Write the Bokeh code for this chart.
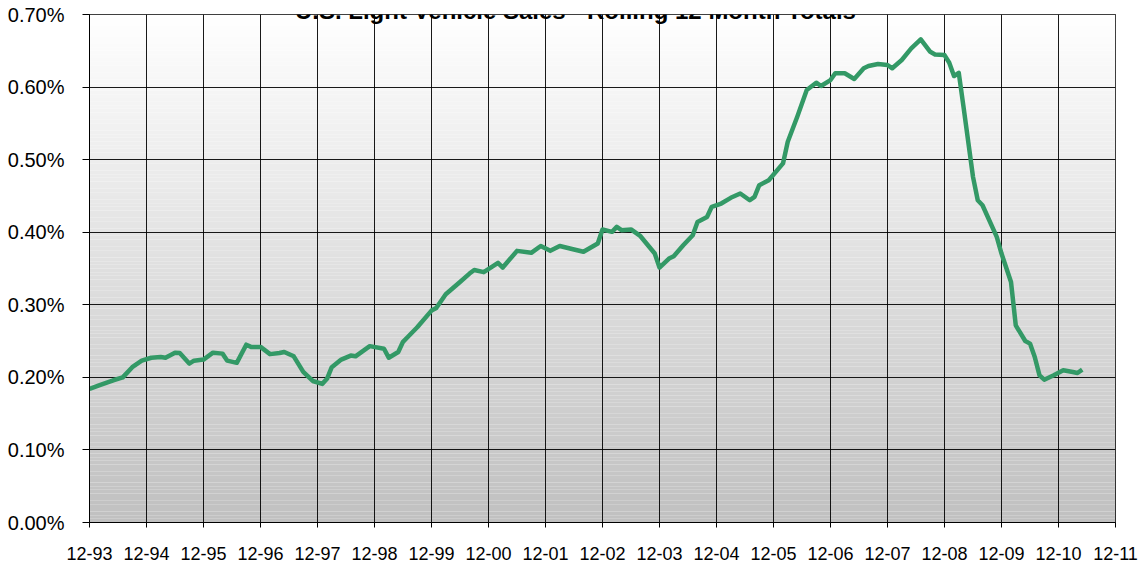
import numpy as np
from bokeh.plotting import figure
from bokeh.models import Range1d, FixedTicker, PrintfTickFormatter, Label, ColumnDataSource
from bokeh.embed import file_html
from bokeh.resources import INLINE

title_text = "U.S. Light Vehicle Sales - Rolling 12 Month Totals"
tick_labels = ["12-93", "12-94", "12-95", "12-96", "12-97", "12-98", "12-99", "12-00", "12-01",
               "12-02", "12-03", "12-04", "12-05", "12-06", "12-07", "12-08", "12-09", "12-10", "12-11"]
y_ticks = [0.0, 0.1, 0.2, 0.3, 0.4, 0.5, 0.6, 0.7]

month_offset = [0, 2, 5, 7, 9, 11, 13, 15, 16, 18, 19, 21, 22, 24, 26, 28, 29, 31, 33, 34,
                36, 38, 40, 41, 43, 45, 47, 49, 50, 51, 53, 55, 56, 59, 62, 63, 65, 66, 67, 69,
                72, 73, 75, 78, 80, 81, 83, 86, 87, 90, 93, 95, 97, 99, 102, 104, 107, 108, 110, 111,
                112, 114, 116, 119, 120, 122, 123, 125, 127, 128, 130, 131, 133, 135, 137, 139, 140, 141, 143, 146,
                147, 149, 151, 153, 154, 156, 157, 159, 161, 163, 164, 166, 168, 169, 171, 173, 175, 177, 178, 180,
                181, 182, 183, 184, 186, 187, 188, 191, 192, 194, 195, 197, 198, 199, 200, 201, 203, 205, 207, 208,
                209]
share_pct = [0.184, 0.189, 0.196, 0.200, 0.214, 0.223, 0.227, 0.228, 0.227, 0.234, 0.2335, 0.219, 0.223, 0.2245, 0.234, 0.2327, 0.223, 0.220, 0.245, 0.242,
             0.242, 0.232, 0.2335, 0.235, 0.229, 0.2075, 0.195, 0.191, 0.198, 0.214, 0.2245, 0.230, 0.229, 0.243, 0.2395, 0.227, 0.235, 0.249, 0.2556, 0.269,
             0.292, 0.2956, 0.3145, 0.3315, 0.343, 0.348, 0.345, 0.3577, 0.3513, 0.3743, 0.3716, 0.381, 0.3743, 0.381, 0.3762, 0.373, 0.3845, 0.4038, 0.4005, 0.4074,
             0.4028, 0.4038, 0.3945, 0.3706, 0.3513, 0.3637, 0.3669, 0.382, 0.3959, 0.4142, 0.421, 0.435, 0.4395, 0.4474, 0.4533, 0.444, 0.4487, 0.4648, 0.4717, 0.4948,
             0.5247, 0.5592, 0.5959, 0.606, 0.6015, 0.6097, 0.619, 0.619, 0.6112, 0.6259, 0.629, 0.6318, 0.6304, 0.6259, 0.6373, 0.6533, 0.6657, 0.6486, 0.645, 0.6441,
             0.6335, 0.6152, 0.6197, 0.5728, 0.4763, 0.444, 0.4372, 0.3936, 0.3706, 0.3315, 0.2717, 0.2501, 0.2465, 0.228, 0.2028, 0.1968, 0.2028, 0.2097, 0.2074, 0.206,
             0.2106]

x_ticks = [12 * i for i in range(len(tick_labels))]
x_max = x_ticks[-1]
y_max = y_ticks[-1]

p = figure(width=1143, height=571, output_backend="svg", toolbar_location=None,
           x_range=Range1d(0, x_max), y_range=Range1d(0, y_max),
           min_border_left=89, min_border_right=28, min_border_top=14, min_border_bottom=49,
           background_fill_color="white", border_fill_color="white",
           outline_line_color="black", outline_line_width=1)

n = 140
edges = np.linspace(0, y_max, n + 1)
cols = []
for i in range(n):
    f = (edges[i] + edges[i + 1]) / 2 / y_max
    g = int(round(192 + (255 - 192) * f))
    cols.append("#%02x%02x%02x" % (g, g, g))
bg = p.quad(left=0, right=x_max, bottom=edges[:-1], top=edges[1:], fill_color=cols, line_color=None)
bg.level = "image"

src = ColumnDataSource(dict(x=month_offset, y=share_pct))
p.line("x", "y", source=src, line_color="#339966", line_width=4.5, line_join="round")

p.xgrid.ticker = FixedTicker(ticks=x_ticks)
p.ygrid.ticker = FixedTicker(ticks=y_ticks)
for g in (p.xgrid[0], p.ygrid[0]):
    g.grid_line_color = "black"
    g.grid_line_width = 1
    g.grid_line_alpha = 0.9

xa = p.xaxis[0]
xa.ticker = FixedTicker(ticks=x_ticks)
xa.major_label_overrides = {t: l for t, l in zip(x_ticks, tick_labels)}
xa.major_label_text_font = "Liberation Sans"
xa.major_label_text_font_size = "18px"
xa.major_label_text_color = "black"
xa.major_tick_out = 5
xa.major_tick_in = 0
xa.minor_tick_out = 0
xa.minor_tick_in = 0
xa.major_label_standoff = 19
xa.axis_line_color = "black"
xa.major_tick_line_color = "black"

ya = p.yaxis[0]
ya.ticker = FixedTicker(ticks=y_ticks)
ya.formatter = PrintfTickFormatter(format="%.2f%%")
ya.major_label_text_font = "Liberation Sans"
ya.major_label_text_font_size = "20px"
ya.major_label_text_color = "black"
ya.major_tick_out = 7
ya.major_tick_in = 0
ya.minor_tick_out = 0
ya.minor_tick_in = 0
ya.major_label_standoff = 18
ya.axis_line_color = "black"
ya.major_tick_line_color = "black"

# title in data units, bottom of the letters just above the top frame line
title = Label(x=102.3, y=y_max + 0.0055, text=title_text, text_align="center",
              text_baseline="alphabetic", text_font="Liberation Sans", text_font_size="24px",
              text_font_style="bold", text_color="black")
p.add_layout(title)

open("out.html", "w").write(file_html(p, INLINE))
